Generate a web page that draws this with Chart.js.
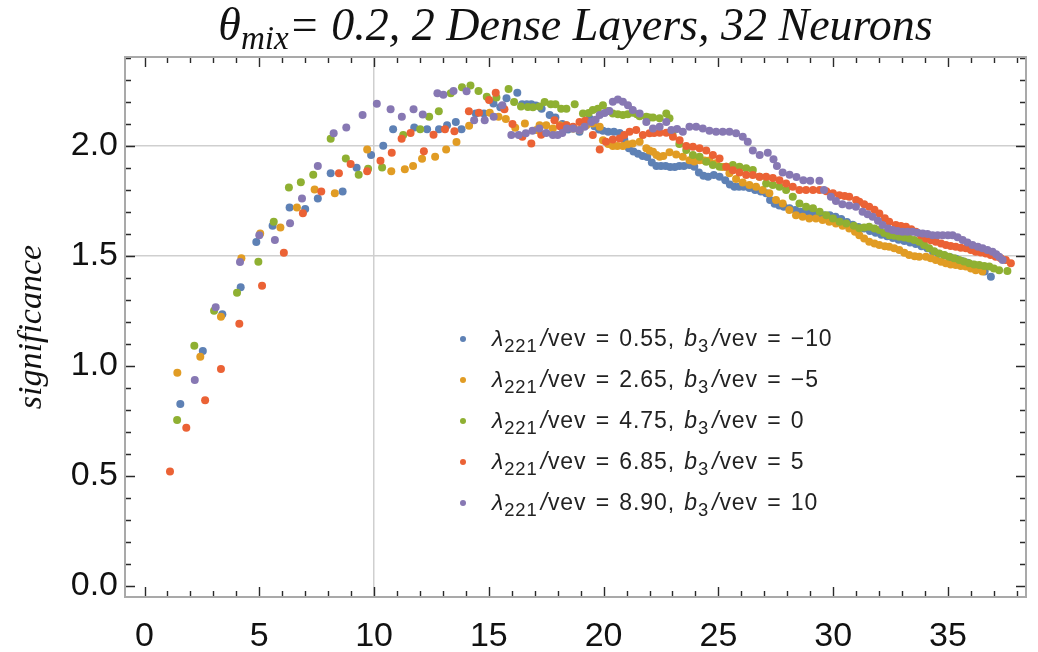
<!DOCTYPE html>
<html>
<head>
<meta charset="utf-8">
<title>significance vs x</title>
<script src="https://cdn.jsdelivr.net/npm/chart.js@4.4.0/dist/chart.umd.min.js"></script>
<style>
  html, body { margin: 0; padding: 0; background: #fff; }
  #wrap { position: relative; width: 1038px; height: 652px; overflow: hidden; }
  #chart { position: absolute; left: 0; top: 0; }
  #title { position: absolute; left: 125px; width: 901px; top: -2px; text-align: center;
           font: italic 46px 'Liberation Serif', 'DejaVu Serif', serif; color: #111; white-space: nowrap; }
  #title sub { font-size: 0.72em; vertical-align: -0.28em; line-height: 0; }
  #legend { position: absolute; left: 452px; top: 318px; font: 23px 'Liberation Sans', Arial, sans-serif;
            letter-spacing: 0.9px; word-spacing: 2px; color: #222; }
  #legend .row { height: 41px; display: flex; align-items: center; white-space: nowrap; }
  #legend .dot { width: 6px; height: 6px; border-radius: 50%; margin: 0 26px 0 8px; flex: none; }
  #legend i { font-style: italic; }
  #legend sub { font-size: 0.8em; vertical-align: -0.3em; line-height: 0; margin-right: 3px; }
</style>
</head>
<body>
<div id="wrap">
  <canvas id="chart" width="1038" height="652"></canvas>
  <div id="title"><i>θ<sub>mix</sub></i>= 0.2, 2 Dense Layers, 32 Neurons</div>
  <div id="legend"></div>
</div>
<script>
/* ---- data: [x, significance] ---- */
const seriesColors = ['#5E81B5', '#E19C24', '#8FB032', '#EB6235', '#8778B3'];
const lambdaVals = ['0.55', '2.65', '4.75', '6.85', '8.90'];
const b3Vals = ['−10', '−5', '0', '5', '10'];
const xTicks = [0, 5, 10, 15, 20, 25, 30, 35];
const yTicks = [0, 0.5, 1, 1.5, 2];
const xGridAt = [10];
const yGridAt = [1.5, 2];

const blue = [[1.56,0.827],[2.54,1.068],[3.39,1.236],[4.19,1.358],[4.87,1.564],[5.58,1.638],[6.32,1.721],[7.0,1.714],
  [7.55,1.762],[8.11,1.877],[8.63,1.794],[9.24,1.901],[9.87,1.959],[10.4,2.001],[10.83,2.076],[11.75,2.085],[12.31,2.076],
  [12.83,2.076],[13.18,2.095],[13.56,2.109],[13.81,2.076],[14.43,2.148],[14.79,2.148],[15.2,2.194],[15.5,2.176],[15.77,2.217],
  [16.24,2.242],[16.45,2.19],[16.65,2.19],[16.85,2.19],[17.05,2.185],[17.3,2.17],[17.65,2.141],[17.9,2.13],[18.2,2.1],
  [18.45,2.075],[18.67,2.08],[18.95,2.065],[19.2,2.1],[19.39,2.125],[19.6,2.09],[19.8,2.075],[19.97,2.07],[20.2,2.065],
  [20.45,2.065],[20.7,2.06],[20.9,2.03],[21.1,1.99],[21.3,1.975],[21.5,1.965],[21.7,1.955],[21.9,1.95],[22.1,1.925],
  [22.3,1.91],[22.5,1.91],[22.7,1.91],[22.9,1.905],[23.1,1.905],[23.3,1.91],[23.5,1.91],[23.74,1.914],[23.95,1.906],
  [24.15,1.88],[24.35,1.865],[24.55,1.861],[24.8,1.868],[25.05,1.861],[25.3,1.845],[25.5,1.825],[25.7,1.815],[25.9,1.815],
  [26.1,1.815],[26.35,1.81],[26.6,1.8],[26.85,1.793],[27.08,1.785],[27.25,1.755],[27.45,1.738],[27.65,1.73],[27.85,1.724],
  [28.1,1.717],[28.35,1.709],[28.6,1.701],[28.85,1.701],[29.1,1.698],[29.35,1.692],[29.6,1.686],[29.85,1.686],[30.1,1.679],
  [30.35,1.668],[30.6,1.655],[30.85,1.642],[31.1,1.632],[31.35,1.625],[31.6,1.614],[31.85,1.606],[32.1,1.597],[32.35,1.59],
  [32.6,1.582],[32.85,1.574],[33.1,1.568],[33.35,1.562],[33.6,1.555],[33.85,1.545],[34.1,1.535],[34.35,1.52],[34.6,1.51],
  [34.85,1.502],[35.1,1.495],[35.35,1.488],[35.6,1.478],[35.85,1.47],[36.1,1.46],[36.35,1.448],[36.6,1.43],[36.87,1.406]];

const orange = [[1.43,0.97],[2.43,1.042],[3.33,1.224],[4.22,1.49],[5.04,1.603],[5.92,1.63],[6.64,1.721],[7.41,1.803],
  [8.29,1.786],[9.7,1.985],[10.75,1.886],[11.34,1.895],[11.7,1.909],[12.09,1.942],[12.66,1.951],[13.14,1.985],[13.59,2.018],
  [14.14,2.092],[15.04,2.151],[15.42,2.133],[15.74,2.123],[16.15,2.083],[16.57,2.103],[17.07,2.073],[17.21,2.095],[17.5,2.095],
  [17.79,2.08],[18.09,2.095],[18.38,2.095],[18.67,2.08],[18.95,2.073],[19.25,2.095],[19.53,2.103],[19.83,2.088],[19.97,2.027],
  [20.2,2.01],[20.4,2.0],[20.6,2.0],[20.84,2.0],[21.05,2.008],[21.27,2.012],[21.57,2.02],[21.86,1.99],[22.0,1.98],[22.15,1.974],
  [22.3,1.96],[22.44,1.951],[22.6,1.955],[22.87,1.972],[23.16,1.962],[23.45,1.952],[23.74,1.936],[23.95,1.93],[24.18,1.936],
  [24.4,1.935],[24.61,1.935],[24.9,1.922],[25.19,1.905],[25.48,1.876],[25.77,1.85],[26.06,1.835],[26.35,1.823],[26.64,1.815],
  [26.93,1.8],[27.22,1.785],[27.51,1.755],[27.8,1.739],[28.09,1.709],[28.38,1.686],[28.67,1.679],[28.96,1.671],[29.25,1.671],
  [29.54,1.664],[29.83,1.656],[30.12,1.648],[30.41,1.638],[30.7,1.625],[30.95,1.61],[31.14,1.595],[31.35,1.58],[31.57,1.565],
  [31.8,1.557],[32.01,1.55],[32.25,1.545],[32.44,1.542],[32.66,1.535],[32.88,1.527],[33.1,1.515],[33.31,1.505],[33.55,1.499],
  [33.75,1.497],[34.04,1.497],[34.25,1.49],[34.47,1.482],[34.7,1.474],[34.91,1.467],[35.12,1.462],[35.34,1.459],[35.56,1.455],
  [35.78,1.452],[36.0,1.444],[36.21,1.436],[36.5,1.43]];

const green = [[1.42,0.755],[2.17,1.092],[3.03,1.251],[4.03,1.333],[4.96,1.474],[5.63,1.656],[6.29,1.812],[6.81,1.836],
  [7.35,1.87],[8.11,2.033],[8.77,1.944],[9.33,1.87],[9.74,1.897],[10.35,1.903],[11.27,2.05],[12.01,2.076],[12.4,2.133],
  [12.82,2.158],[13.34,2.24],[13.83,2.267],[14.2,2.275],[14.55,2.25],[14.91,2.224],[15.33,2.221],[15.86,2.26],[16.1,2.2],
  [16.4,2.18],[16.7,2.178],[16.92,2.176],[17.2,2.18],[17.43,2.2],[17.7,2.19],[17.9,2.19],[18.15,2.17],[18.38,2.17],[18.74,2.19],
  [19.1,2.148],[19.35,2.15],[19.53,2.164],[19.75,2.17],[19.97,2.186],[20.2,2.16],[20.4,2.148],[20.62,2.145],[20.84,2.141],
  [21.05,2.145],[21.27,2.151],[21.45,2.145],[21.57,2.136],[21.86,2.133],[22.0,2.13],[22.15,2.13],[22.44,2.126],[22.73,2.148],
  [22.87,2.126],[23.0,2.06],[23.3,2.01],[23.6,1.982],[23.89,1.959],[24.18,1.952],[24.47,1.929],[24.76,1.914],[25.05,1.906],
  [25.34,1.906],[25.63,1.914],[25.92,1.906],[26.21,1.899],[26.5,1.891],[26.79,1.861],[27.08,1.83],[27.37,1.823],[27.66,1.815],
  [27.95,1.8],[28.24,1.77],[28.53,1.739],[28.82,1.724],[29.12,1.717],[29.41,1.701],[29.7,1.686],[29.99,1.671],[30.28,1.656],
  [30.57,1.648],[30.9,1.638],[31.14,1.626],[31.35,1.63],[31.57,1.633],[31.8,1.625],[32.01,1.618],[32.22,1.605],[32.44,1.595],
  [32.66,1.592],[32.88,1.588],[33.1,1.584],[33.31,1.58],[33.53,1.573],[33.75,1.565],[33.96,1.55],[34.18,1.535],[34.4,1.522],
  [34.62,1.512],[34.84,1.505],[35.05,1.497],[35.27,1.49],[35.49,1.482],[35.7,1.475],[35.92,1.467],[36.14,1.462],[36.36,1.459],
  [36.58,1.455],[36.8,1.452],[37.0,1.444],[37.23,1.436],[37.59,1.432]];

const red = [[1.11,0.52],[1.82,0.72],[2.64,0.845],[3.33,0.986],[4.13,1.192],[5.12,1.365],[6.07,1.515],[6.9,1.695],
  [7.7,1.794],[8.47,1.877],[8.98,1.918],[9.7,1.886],[10.28,1.933],[10.77,1.97],[11.2,2.033],[11.59,2.059],[12.17,1.977],
  [12.59,2.051],[13.09,2.076],[13.5,2.068],[14.13,2.158],[14.57,2.151],[15.01,2.209],[15.3,2.242],[15.68,2.167],[16.03,2.1],
  [16.46,2.042],[16.85,2.012],[17.28,2.052],[17.86,2.118],[18.1,2.09],[18.38,2.095],[18.67,2.088],[18.95,2.11],[19.2,2.115],
  [19.53,2.05],[19.83,1.985],[20.1,2.02],[20.4,2.03],[20.7,2.035],[20.9,2.05],[21.13,2.065],[21.42,2.073],[21.71,2.05],
  [22.0,2.058],[22.2,2.06],[22.44,2.061],[22.73,2.061],[23.02,2.042],[23.31,2.027],[23.6,2.0],[23.89,1.997],[24.18,1.99],
  [24.47,1.98],[24.76,1.959],[25.05,1.944],[25.34,1.906],[25.63,1.89],[25.92,1.88],[26.21,1.868],[26.5,1.868],[26.79,1.861],
  [27.08,1.861],[27.37,1.855],[27.66,1.845],[27.95,1.83],[28.24,1.815],[28.53,1.8],[28.82,1.8],[29.12,1.8],[29.41,1.8],
  [29.7,1.795],[29.99,1.785],[30.27,1.777],[30.5,1.773],[30.7,1.77],[31.0,1.755],[31.14,1.747],[31.35,1.735],[31.57,1.724],
  [31.8,1.71],[32.01,1.694],[32.25,1.672],[32.44,1.656],[32.73,1.641],[32.95,1.637],[33.17,1.633],[33.4,1.622],[33.6,1.61],
  [33.82,1.595],[34.04,1.58],[34.25,1.572],[34.47,1.565],[34.7,1.557],[34.91,1.55],[35.12,1.546],[35.34,1.542],[35.56,1.538],
  [35.78,1.535],[36.0,1.527],[36.21,1.52],[36.43,1.516],[36.65,1.512],[36.86,1.505],[37.08,1.497],[37.3,1.49],[37.52,1.482],
  [37.74,1.467]];

const purple = [[2.19,0.936],[3.1,1.267],[4.16,1.473],[5.0,1.595],[5.68,1.573],[6.34,1.649],[6.86,1.762],[7.55,1.91],
  [8.24,2.058],[8.79,2.085],[9.5,2.141],[10.12,2.192],[10.72,2.167],[11.21,2.133],[11.72,2.167],[12.12,2.144],[12.76,2.24],
  [13.02,2.233],[13.46,2.25],[14.03,2.249],[14.36,2.118],[14.82,2.118],[15.21,2.133],[15.59,2.186],[15.98,2.05],[16.3,2.05],
  [16.61,2.058],[16.9,2.07],[17.2,2.08],[17.5,2.06],[17.79,2.05],[18.0,2.05],[18.2,2.06],[18.4,2.08],[18.67,2.08],[18.95,2.073],
  [19.17,2.088],[19.46,2.11],[19.65,2.12],[19.83,2.141],[20.04,2.15],[20.25,2.16],[20.4,2.201],[20.62,2.212],[20.84,2.201],
  [21.06,2.186],[21.27,2.164],[21.57,2.148],[21.86,2.11],[22.15,2.08],[22.44,2.088],[22.73,2.11],[22.95,2.073],[23.2,2.078],
  [23.45,2.065],[23.74,2.088],[24.03,2.088],[24.32,2.08],[24.61,2.07],[24.9,2.065],[25.19,2.065],[25.48,2.065],[25.77,2.058],
  [26.06,2.042],[26.28,2.02],[26.5,1.98],[26.8,1.96],[27.15,1.97],[27.4,1.94],[27.55,1.91],[27.8,1.88],[28.1,1.87],[28.4,1.86],
  [28.7,1.845],[29.0,1.842],[29.4,1.842],[29.6,1.8],[29.9,1.77],[30.12,1.75],[30.4,1.735],[30.7,1.73],[30.99,1.724],
  [31.28,1.702],[31.5,1.69],[31.72,1.679],[31.95,1.66],[32.15,1.641],[32.4,1.625],[32.59,1.618],[32.8,1.614],[33.02,1.61],
  [33.24,1.61],[33.46,1.61],[33.68,1.606],[33.9,1.603],[34.11,1.6],[34.33,1.595],[34.55,1.595],[34.77,1.595],[35.0,1.595],
  [35.2,1.595],[35.42,1.585],[35.64,1.573],[35.85,1.562],[36.07,1.55],[36.3,1.542],[36.51,1.535],[36.72,1.528],[36.94,1.52],
  [37.1,1.508],[37.23,1.497],[37.38,1.482]];

const seriesData = [blue, orange, green, red, purple];

/* ---- inner ticks + gray frame, Mathematica style ---- */
const frameTicks = {
  id: 'frameTicks',
  afterDatasetsDraw(chart) {
    const { ctx, chartArea: a, scales: { x, y } } = chart;
    ctx.save();
    ctx.strokeStyle = '#2a2a2a';
    ctx.lineWidth = 1.4;
    ctx.beginPath();
    for (let v = 0; v <= 38; v++) {
      const px = Math.round(x.getPixelForValue(v)) + 0.5;
      const len = v % 5 === 0 ? 10 : 6;
      ctx.moveTo(px, a.bottom); ctx.lineTo(px, a.bottom - len);
      ctx.moveTo(px, a.top); ctx.lineTo(px, a.top + len);
    }
    for (let k = 0; k <= 24; k++) {
      const py = Math.round(y.getPixelForValue(k / 10)) + 0.5;
      const len = k % 5 === 0 ? 10 : 6;
      ctx.moveTo(a.left, py); ctx.lineTo(a.left + len, py);
      ctx.moveTo(a.right, py); ctx.lineTo(a.right - len, py);
    }
    ctx.stroke();
    ctx.strokeStyle = '#a9a9a9';
    ctx.lineWidth = 2;
    ctx.strokeRect(a.left, a.top, a.width, a.height);
    ctx.restore();
  }
};

/* ---- html legend (needs subscripts) ---- */
function renderLegend(chart) {
  const box = document.getElementById('legend');
  box.innerHTML = chart.data.datasets.map((d, i) => `
    <div class="row"><span class="dot" style="background:${d.backgroundColor}"></span>
      <span><i>λ</i><sub>221</sub><i>/</i>vev = ${lambdaVals[i]}, <i>b</i><sub>3</sub><i>/</i>vev = ${b3Vals[i]}</span></div>`).join('');
}

const tickFont = { family: "'Liberation Sans', Arial, sans-serif", size: 34 };

const chart = new Chart(document.getElementById('chart'), {
  type: 'scatter',
  data: {
    datasets: seriesData.map((s, i) => ({
      label: `λ221/vev = ${lambdaVals[i]}, b3/vev = ${b3Vals[i]}`,
      data: s.map(p => ({ x: p[0], y: p[1] })),
      backgroundColor: seriesColors[i],
      borderWidth: 0,
      pointRadius: 4,
      pointHoverRadius: 4,
      order: seriesData.length - i
    }))
  },
  options: {
    responsive: false,
    animation: false,
    devicePixelRatio: 1,
    layout: { padding: { top: 57, right: 12, left: 0, bottom: 0 } },
    plugins: { legend: { display: false }, tooltip: { enabled: false }, title: { display: false } },
    scales: {
      x: {
        type: 'linear', min: -0.85, max: 38.4,
        afterBuildTicks: ax => { ax.ticks = xTicks.map(v => ({ value: v })); },
        afterFit: ax => { ax.height = 55; },
        grid: {
          drawTicks: false, lineWidth: 1.5,
          color: c => xGridAt.includes(c.tick && c.tick.value) ? '#cfcfcf' : 'rgba(0,0,0,0)'
        },
        border: { display: false },
        ticks: { font: tickFont, color: '#111', padding: 19, maxRotation: 0 }
      },
      y: {
        type: 'linear', min: -0.05, max: 2.405,
        afterBuildTicks: ax => { ax.ticks = yTicks.map(v => ({ value: v })); },
        afterFit: ax => { ax.width = 125; },
        grid: {
          drawTicks: false, lineWidth: 1.5,
          color: c => yGridAt.includes(c.tick && c.tick.value) ? '#cfcfcf' : 'rgba(0,0,0,0)'
        },
        border: { display: false },
        ticks: { font: tickFont, color: '#111', padding: 7, callback: v => v.toFixed(1) },
        title: {
          display: true, text: 'significance', color: '#111',
          font: { family: "'Liberation Serif', 'DejaVu Serif', serif", style: 'italic', size: 34 },
          padding: { top: 12, bottom: 0 }
        }
      }
    }
  },
  plugins: [frameTicks]
});

renderLegend(chart);
</script>
</body>
</html>
